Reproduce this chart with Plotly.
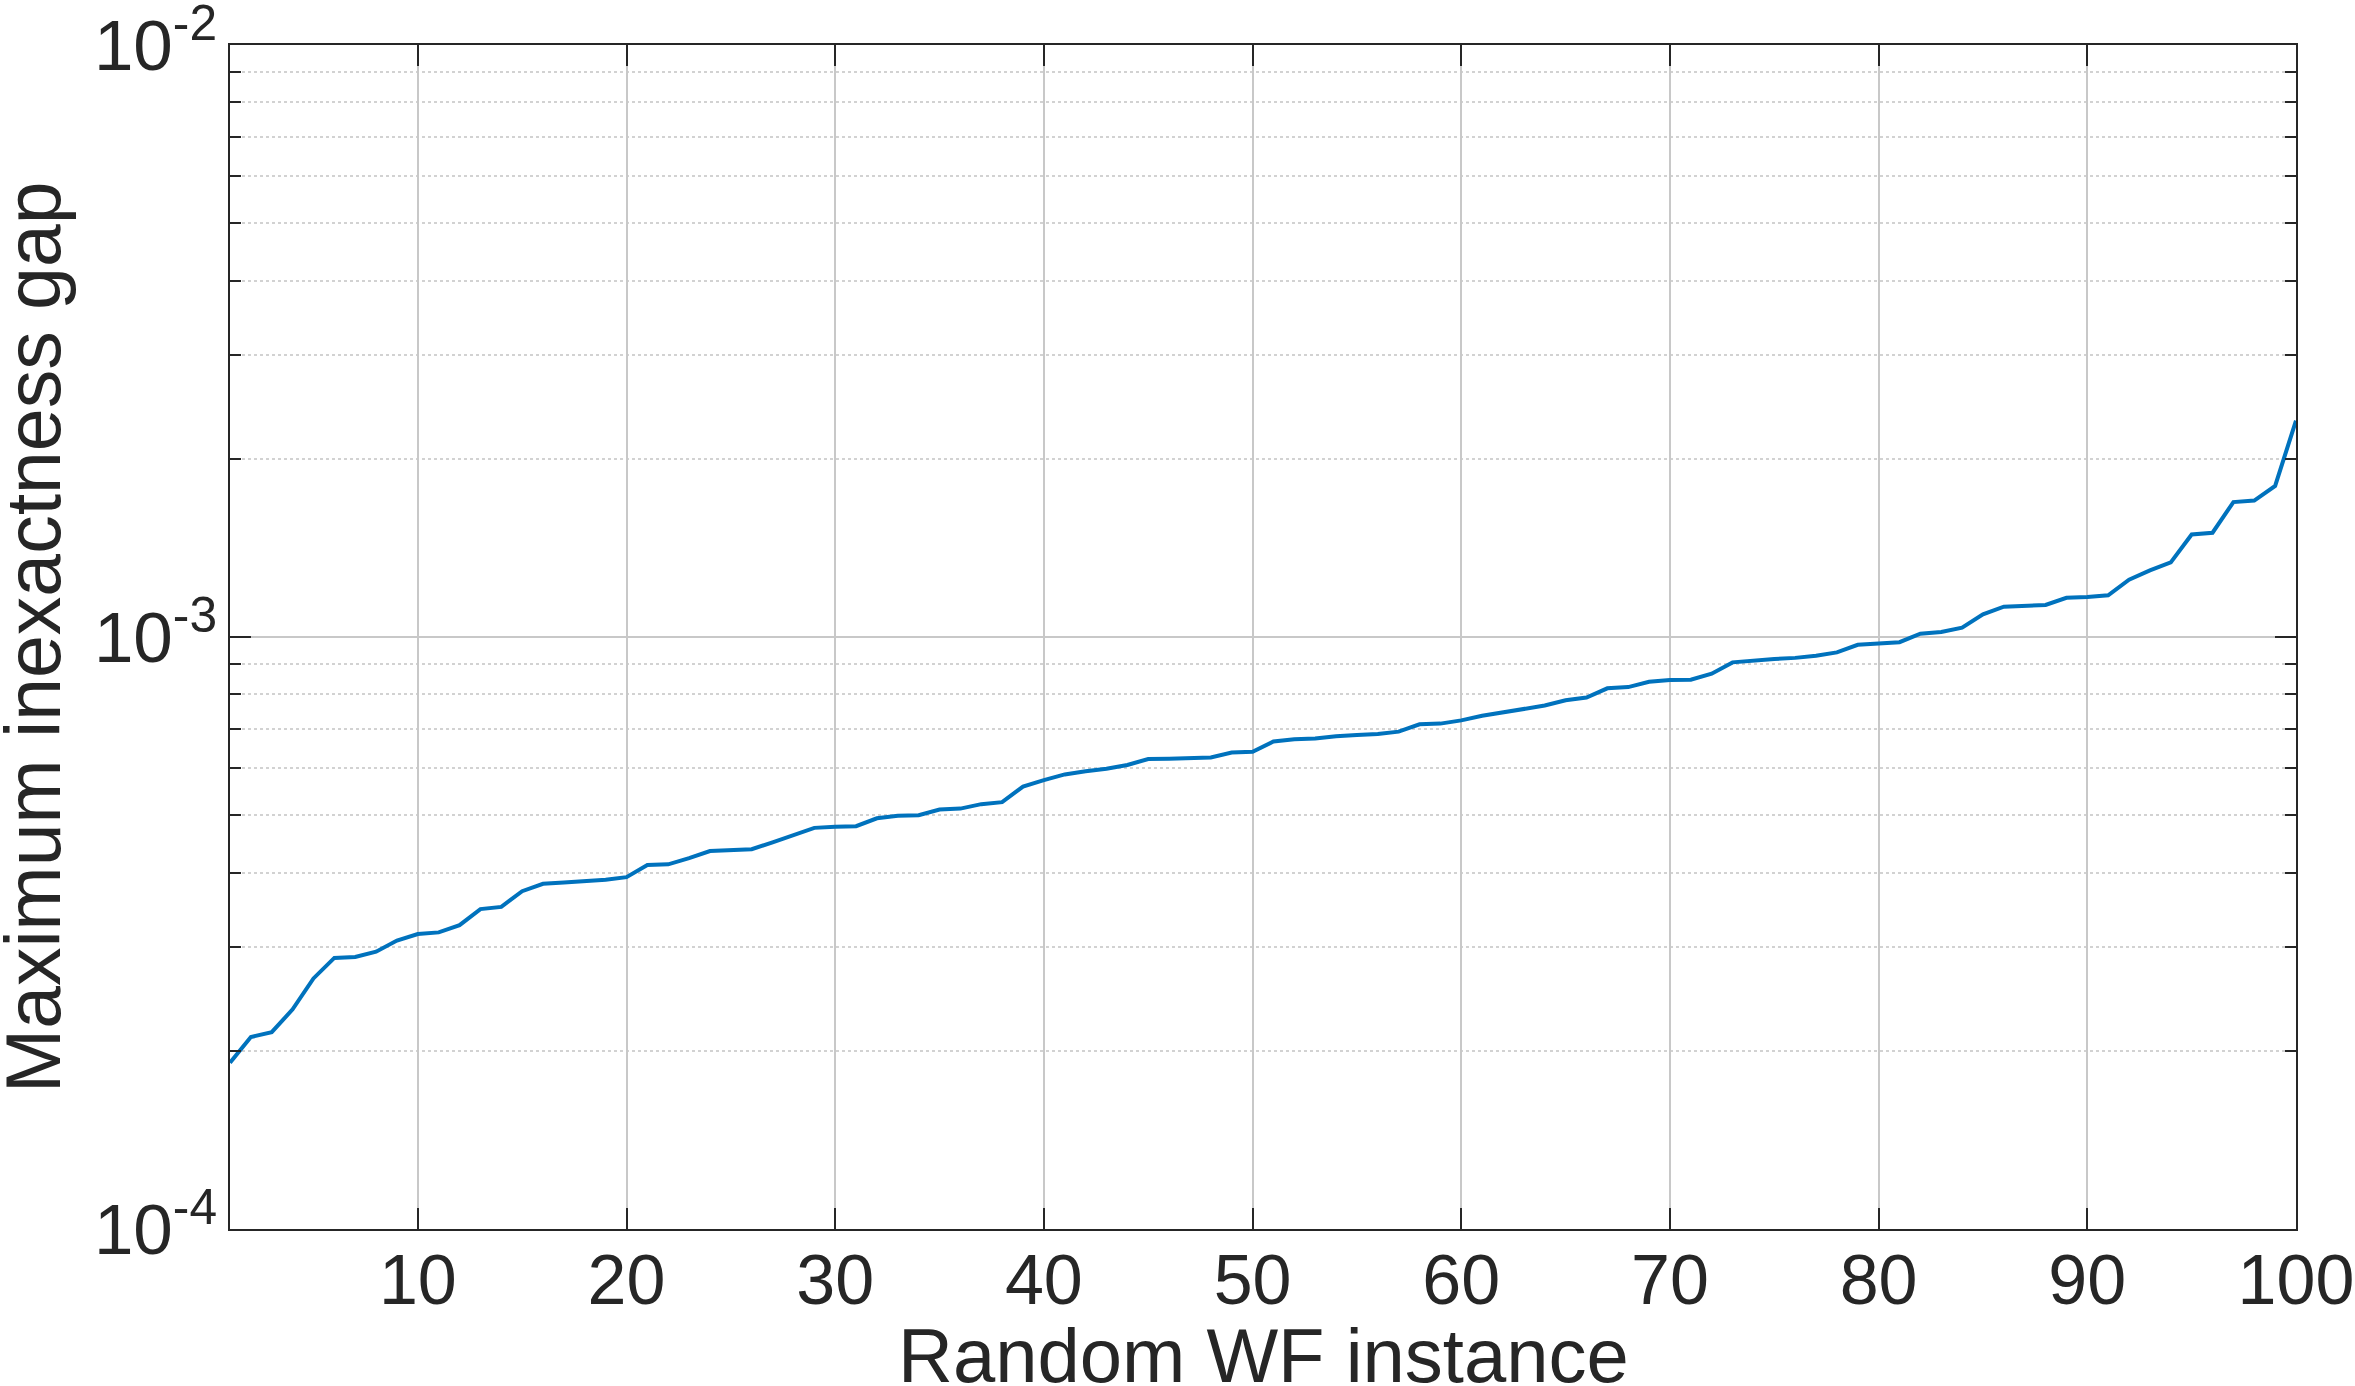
import plotly.graph_objects as go

instances = list(range(1, 101))
gap = [
    1.91e-4, 2.11e-4, 2.15e-4, 2.35e-4, 2.65e-4, 2.87e-4, 2.88e-4, 2.94e-4, 3.07e-4, 3.15e-4,
    3.17e-4, 3.26e-4, 3.47e-4, 3.50e-4, 3.72e-4, 3.83e-4, 3.85e-4, 3.87e-4, 3.89e-4, 3.93e-4,
    4.12e-4, 4.13e-4, 4.23e-4, 4.35e-4, 4.36e-4, 4.38e-4, 4.50e-4, 4.62e-4, 4.76e-4, 4.78e-4,
    4.79e-4, 4.94e-4, 4.99e-4, 5.00e-4, 5.11e-4, 5.13e-4, 5.22e-4, 5.26e-4, 5.59e-4, 5.73e-4,
    5.86e-4, 5.93e-4, 5.99e-4, 6.08e-4, 6.22e-4, 6.23e-4, 6.25e-4, 6.26e-4, 6.38e-4, 6.40e-4,
    6.66e-4, 6.72e-4, 6.74e-4, 6.80e-4, 6.83e-4, 6.86e-4, 6.92e-4, 7.12e-4, 7.14e-4, 7.23e-4,
    7.36e-4, 7.45e-4, 7.56e-4, 7.66e-4, 7.82e-4, 7.90e-4, 8.19e-4, 8.23e-4, 8.40e-4, 8.46e-4,
    8.47e-4, 8.67e-4, 9.06e-4, 9.13e-4, 9.18e-4, 9.22e-4, 9.30e-4, 9.42e-4, 9.70e-4, 9.75e-4,
    9.80e-4, 1.013e-3, 1.020e-3, 1.037e-3, 1.092e-3, 1.125e-3, 1.128e-3, 1.133e-3, 1.165e-3, 1.168e-3,
    1.176e-3, 1.250e-3, 1.296e-3, 1.337e-3, 1.490e-3, 1.500e-3, 1.690e-3, 1.700e-3, 1.800e-3, 2.320e-3,
]

x_ticks = [10, 20, 30, 40, 50, 60, 70, 80, 90, 100]
y_ticks = [1e-4, 1e-3, 1e-2]
y_ticktext = ["10<sup>-4</sup>", "10<sup>-3</sup>", "10<sup>-2</sup>"]
y_minor = [m * 10.0 ** e for e in (-4, -3) for m in range(2, 10)]

x_title = "Random WF instance"
y_title = "Maximum inexactness gap"

TXT = "#262626"
FONT = "Liberation Sans, Helvetica, Arial, sans-serif"
EPS = 1e-6

fig = go.Figure()
fig.add_trace(go.Scatter(
    x=instances, y=gap, mode="lines",
    line=dict(color="#0072BD", width=4),
    showlegend=False,
))

fig.update_layout(
    width=2355, height=1386,
    margin=dict(l=230, r=59, t=45, b=157, autoexpand=False),
    paper_bgcolor="white", plot_bgcolor="white",
    font=dict(family=FONT, color=TXT, size=70),
)

fig.update_xaxes(
    range=[1, 100],
    tickvals=x_ticks,
    ticks="inside", ticklen=21, tickwidth=1.5, tickcolor=TXT,
    showline=True, linecolor=TXT, linewidth=1.5, mirror="allticks",
    showgrid=True, gridcolor="#c8c8c8", gridwidth=1.5,
    zeroline=False,
    tickfont=dict(size=70, color=TXT, family=FONT),
    ticklabelstandoff=-11,
    ticklabeloverflow="allow",
)

fig.update_yaxes(
    type="log",
    range=[-4 - EPS, -2 + EPS],
    tickvals=y_ticks, ticktext=y_ticktext,
    ticks="inside", ticklen=21, tickwidth=1.5, tickcolor=TXT,
    showline=True, linecolor=TXT, linewidth=1.5, mirror="allticks",
    showgrid=True, gridcolor="#c8c8c8", gridwidth=1.5,
    zeroline=False,
    tickfont=dict(size=71, color=TXT, family=FONT),
    ticklabelstandoff=-3,
    ticklabeloverflow="allow",
    minor=dict(
        tickvals=y_minor, ticks="inside", ticklen=11, tickwidth=1.5, tickcolor=TXT,
        showgrid=True, gridcolor="#d2d2d2", gridwidth=1.5, griddash="dot",
    ),
)

fig.add_annotation(
    text=x_title, xref="paper", yref="paper",
    x=0.5, y=(1229 - 1311) / 1184, xanchor="center", yanchor="top",
    showarrow=False, font=dict(size=76, color=TXT, family=FONT),
)
fig.add_annotation(
    text=y_title, xref="paper", yref="paper", textangle=-90,
    x=(33 - 230) / 2066, y=0.5, xanchor="center", yanchor="middle",
    showarrow=False, font=dict(size=77, color=TXT, family=FONT),
)

fig.write_html("out.html")
